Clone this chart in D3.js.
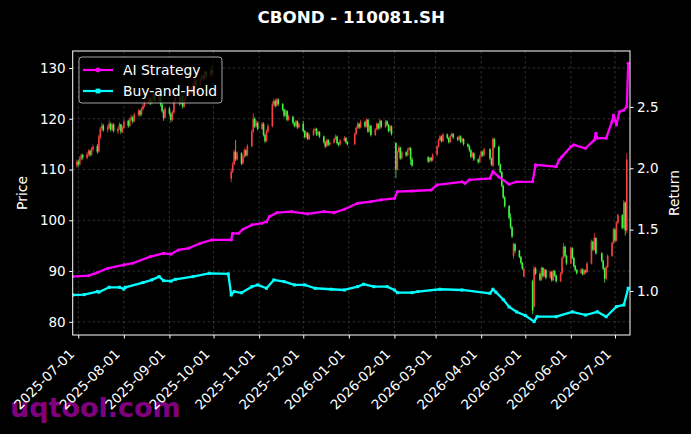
<!DOCTYPE html>
<html>
<head>
<meta charset="utf-8">
<script src="https://cdn.jsdelivr.net/npm/d3@7/dist/d3.min.js"></script>
<style>
  body { margin: 0; background: #000; }
  svg { display: block; font-family: "DejaVu Sans", sans-serif; }
</style>
</head>
<body>
<svg id="chart"></svg>
<script>
// Daily candles: [date, open, high, low, close]
var candles2025Q3 = [
  ["2025-06-30",110.8,112.0,110.4,111.5],["2025-07-01",111.6,111.9,110.5,111.0],["2025-07-02",111.0,112.6,110.8,112.2],
  ["2025-07-03",112.1,113.2,111.8,112.8],["2025-07-04",112.9,113.1,111.9,112.4],["2025-07-07",112.3,113.4,112.0,113.0],
  ["2025-07-08",113.1,114.0,112.6,113.6],["2025-07-09",113.7,113.9,112.5,112.9],["2025-07-10",112.9,114.4,112.7,114.0],
  ["2025-07-11",114.0,114.9,113.6,114.5],["2025-07-14",114.6,115.0,113.1,113.5],["2025-07-15",113.6,116.9,113.3,116.5],
  ["2025-07-16",116.4,118.4,116.0,118.0],["2025-07-17",118.1,119.2,117.6,118.6],["2025-07-18",118.7,119.0,117.4,117.8],
  ["2025-07-21",117.8,118.8,117.3,118.3],["2025-07-22",118.2,119.7,117.9,119.0],["2025-07-23",119.0,119.3,117.5,117.9],
  ["2025-07-24",117.9,119.2,117.6,118.8],["2025-07-25",118.9,119.1,117.3,117.6],["2025-07-28",117.5,118.4,117.0,118.0],
  ["2025-07-29",118.0,119.3,117.8,118.9],["2025-07-30",118.9,119.0,117.0,117.5],["2025-07-31",117.4,118.6,117.2,118.2],
  ["2025-08-01",118.2,119.9,118.0,119.5],["2025-08-04",119.6,119.8,118.2,118.6],["2025-08-05",118.6,120.2,118.4,119.8],
  ["2025-08-06",119.8,120.8,119.5,120.3],["2025-08-07",120.3,120.5,119.1,119.5],["2025-08-08",119.5,121.2,119.3,120.8],
  ["2025-08-11",120.8,121.9,120.5,121.5],["2025-08-12",121.6,121.8,120.4,120.8],["2025-08-13",120.8,122.3,120.6,121.9],
  ["2025-08-14",121.9,122.9,121.6,122.5],["2025-08-15",122.5,123.7,122.2,123.2],["2025-08-18",123.2,124.3,122.9,123.8],
  ["2025-08-19",123.9,124.1,122.7,123.1],["2025-08-20",123.1,124.5,122.9,124.0],["2025-08-21",124.0,125.2,123.7,124.6],
  ["2025-08-22",124.7,124.9,123.1,123.5],["2025-08-25",123.5,125.3,123.2,124.8],["2025-08-26",124.8,125.0,122.4,122.8],
  ["2025-08-27",122.8,123.1,121.2,121.5],["2025-08-28",121.5,121.8,119.6,120.2],["2025-08-29",120.2,122.4,120.0,122.0],
  ["2025-09-01",122.0,122.3,120.6,121.0],["2025-09-02",121.0,121.3,119.3,119.8],["2025-09-03",119.8,121.6,119.5,121.2],
  ["2025-09-04",121.2,123.9,121.0,123.5],["2025-09-05",123.5,124.6,123.1,124.2],["2025-09-08",124.2,124.4,122.6,123.0],
  ["2025-09-09",123.0,124.9,122.8,124.5],["2025-09-10",124.5,124.7,122.0,122.4],["2025-09-11",122.4,124.2,122.2,123.8],
  ["2025-09-12",123.8,125.4,123.5,125.0],["2025-09-15",125.0,126.4,124.7,126.0],["2025-09-16",126.0,126.3,125.0,125.4],
  ["2025-09-17",125.4,127.2,125.2,126.8],["2025-09-18",126.8,127.9,126.5,127.5],["2025-09-19",127.5,127.7,126.2,126.6],
  ["2025-09-22",126.6,128.2,126.4,127.8],["2025-09-23",127.8,128.9,127.5,128.5],["2025-09-24",128.5,128.7,127.5,127.9],
  ["2025-09-25",127.9,129.6,127.7,129.2],["2025-09-26",129.2,129.4,128.0,128.4],["2025-09-29",128.4,130.0,128.2,129.6],
  ["2025-09-30",129.6,130.6,128.6,129.0]
];
var candles2025Q4 = [
  ["2025-10-13",108.2,110.2,107.5,109.6],["2025-10-14",109.6,111.5,109.3,111.0],["2025-10-15",111.0,113.9,110.8,113.5],
  ["2025-10-16",113.5,115.8,111.6,112.0],["2025-10-17",112.0,113.6,111.8,113.2],["2025-10-20",113.2,113.4,110.9,111.2],
  ["2025-10-21",111.2,112.9,111.0,112.5],["2025-10-22",112.5,114.2,112.3,113.8],["2025-10-23",113.8,114.0,112.5,112.8],
  ["2025-10-24",112.8,115.0,112.6,114.6],["2025-10-27",114.6,117.9,114.4,117.5],["2025-10-28",117.5,121.1,117.2,120.0],
  ["2025-10-29",120.0,120.3,118.2,118.5],["2025-10-30",118.5,119.7,118.3,119.2],["2025-10-31",119.2,119.5,117.7,118.0],
  ["2025-11-03",118.0,119.4,117.8,119.0],["2025-11-04",119.0,119.3,116.5,116.8],["2025-11-05",116.8,117.1,115.2,115.6],
  ["2025-11-06",115.6,117.9,115.4,117.5],["2025-11-07",117.5,119.0,117.2,118.6],["2025-11-10",118.5,123.4,118.3,122.8],
  ["2025-11-11",122.8,124.0,122.4,123.5],["2025-11-12",123.5,123.8,122.2,122.6],["2025-11-13",122.6,124.1,122.4,123.8],
  ["2025-11-14",123.8,124.0,122.5,122.9],["2025-11-17",122.9,123.1,121.5,121.8],["2025-11-18",121.8,122.0,120.3,120.6],
  ["2025-11-19",120.6,121.9,120.4,121.5],["2025-11-20",121.5,121.7,119.5,119.8],["2025-11-21",119.8,120.8,119.6,120.4],
  ["2025-11-24",120.4,120.6,118.9,119.2],["2025-11-25",119.2,119.4,118.3,118.6],["2025-11-26",118.6,119.8,118.4,119.5],
  ["2025-11-27",119.5,119.7,118.0,118.3],["2025-11-28",118.3,119.3,118.1,119.0],["2025-12-01",119.0,119.6,117.3,117.6],
  ["2025-12-02",117.6,117.8,116.1,116.4],["2025-12-03",116.4,117.5,116.2,117.2],["2025-12-04",117.2,117.4,115.8,116.0],
  ["2025-12-05",116.0,117.1,115.8,116.8],["2025-12-08",116.8,118.1,116.6,117.8],["2025-12-09",117.8,118.3,117.5,118.0],
  ["2025-12-10",118.0,118.2,116.6,116.9],["2025-12-11",116.9,117.7,116.7,117.4],["2025-12-12",117.4,117.6,116.2,116.5],
  ["2025-12-15",116.5,116.7,115.1,115.4],["2025-12-16",115.4,115.6,114.2,114.6],["2025-12-17",114.6,116.1,114.4,115.8],
  ["2025-12-18",115.8,116.0,114.6,114.9],["2025-12-19",114.9,115.6,114.7,115.3],["2025-12-22",115.3,116.3,115.1,116.0],
  ["2025-12-23",116.0,116.9,115.8,116.5],["2025-12-24",116.5,116.7,114.9,115.2],["2025-12-25",115.2,115.4,114.5,114.9],
  ["2025-12-26",114.9,116.0,114.7,115.7],["2025-12-29",115.7,116.6,115.5,116.2],["2025-12-30",116.2,116.4,115.1,115.4],
  ["2025-12-31",115.4,115.6,114.7,115.0]
];
var candles2026Q1 = [
  ["2026-01-05",115.0,117.3,114.8,117.0],["2026-01-06",117.0,118.5,116.8,118.2],["2026-01-07",118.2,119.4,118.0,119.0],
  ["2026-01-08",119.0,119.2,118.0,118.3],["2026-01-09",118.3,119.8,118.1,119.4],["2026-01-12",119.4,119.6,118.2,118.5],
  ["2026-01-13",118.5,120.1,118.3,119.8],["2026-01-14",119.8,120.0,117.2,117.5],["2026-01-15",117.5,118.9,117.3,118.6],
  ["2026-01-16",118.6,118.8,116.5,116.8],["2026-01-19",116.8,118.2,116.6,117.9],["2026-01-20",117.9,119.3,117.7,119.0],
  ["2026-01-21",119.0,119.2,117.8,118.1],["2026-01-22",118.1,119.9,117.9,119.6],["2026-01-23",119.6,119.8,118.1,118.4],
  ["2026-01-26",118.4,119.8,118.2,119.5],["2026-01-27",119.5,119.7,118.5,118.8],["2026-01-28",118.8,119.0,117.3,117.6],
  ["2026-01-29",117.6,118.8,117.4,118.5],["2026-01-30",118.5,118.7,116.7,117.0],["2026-02-02",115.2,115.4,108.3,110.0],
  ["2026-02-03",110.0,113.8,109.8,113.5],["2026-02-04",113.5,114.8,113.3,114.3],["2026-02-05",114.3,114.5,111.9,112.2],
  ["2026-02-06",112.2,113.7,112.0,113.4],["2026-02-09",113.4,113.6,112.5,112.8],["2026-02-10",112.8,114.2,112.6,113.9],
  ["2026-02-11",113.9,114.5,113.7,114.2],["2026-02-12",114.2,114.4,110.9,112.0],["2026-02-13",112.0,112.4,110.5,110.8],
  ["2026-02-24",112.4,112.6,111.3,111.6],["2026-02-25",111.6,112.5,111.4,112.3],["2026-02-26",112.3,112.5,111.5,111.8],
  ["2026-02-27",111.8,113.2,111.6,112.9],["2026-03-02",112.9,114.8,112.7,114.5],["2026-03-03",114.5,116.1,114.3,115.8],
  ["2026-03-04",115.8,116.8,115.6,116.5],["2026-03-05",116.5,116.7,115.3,115.6],["2026-03-06",115.6,117.2,115.4,116.9],
  ["2026-03-09",116.9,117.1,115.9,116.2],["2026-03-10",116.2,116.4,115.1,115.4],["2026-03-11",115.4,116.9,115.2,116.6],
  ["2026-03-12",116.6,117.3,116.4,117.0],["2026-03-13",117.0,117.2,116.0,116.3],["2026-03-16",116.3,116.5,115.6,115.9],
  ["2026-03-17",115.9,116.8,115.7,116.5],["2026-03-18",116.5,116.7,115.2,115.5],["2026-03-19",115.5,116.3,115.3,116.0],
  ["2026-03-20",116.0,116.2,114.7,115.0],["2026-03-23",115.0,115.2,114.3,114.6],["2026-03-24",114.6,114.8,113.5,113.8],
  ["2026-03-25",113.8,114.0,112.2,112.5],["2026-03-26",112.5,113.5,112.3,113.2],["2026-03-27",113.2,113.4,111.7,112.0],
  ["2026-03-30",112.0,112.2,111.1,111.5],["2026-03-31",111.5,112.9,111.3,112.6]
];
var candles2026Q2 = [
  ["2026-04-01",112.6,113.8,112.4,113.5],["2026-04-02",113.5,113.7,112.5,112.8],["2026-04-03",112.8,114.3,112.6,114.0],
  ["2026-04-07",114.0,114.2,111.9,112.2],["2026-04-08",112.2,112.4,110.7,111.0],["2026-04-09",110.8,116.4,110.5,116.0],
  ["2026-04-10",116.0,116.2,114.2,114.5],["2026-04-13",114.5,114.7,110.7,111.0],["2026-04-14",111.0,111.2,109.2,109.5],
  ["2026-04-15",109.5,109.7,106.5,106.8],["2026-04-16",106.8,107.0,104.2,104.5],["2026-04-17",104.5,104.8,102.5,102.8],
  ["2026-04-20",102.8,103.0,100.2,100.5],["2026-04-21",100.5,101.4,98.3,98.6],["2026-04-22",98.6,98.9,96.5,96.8],
  ["2026-04-23",93.0,95.6,92.5,95.3],["2026-04-24",95.3,95.5,93.5,94.0],["2026-04-27",94.0,94.2,92.5,92.8],
  ["2026-04-28",92.8,93.0,91.3,91.6],["2026-04-29",91.6,91.8,90.2,90.5],["2026-04-30",88.9,90.8,88.8,90.4],
  ["2026-05-06",88.0,88.3,81.5,82.2],["2026-05-07",83.0,91.0,82.8,90.5],["2026-05-08",90.5,90.8,89.2,89.5],
  ["2026-05-11",89.5,89.7,88.0,88.3],["2026-05-12",88.3,90.9,88.1,90.6],["2026-05-13",90.6,90.8,88.7,89.0],
  ["2026-05-14",89.0,90.5,88.8,90.2],["2026-05-15",90.2,90.4,88.4,88.7],["2026-05-18",88.7,90.1,88.5,89.8],
  ["2026-05-19",89.8,90.0,87.9,88.2],["2026-05-20",88.2,90.3,88.0,90.0],["2026-05-21",90.0,90.2,88.8,89.1],
  ["2026-05-22",89.1,89.3,87.7,88.0],["2026-05-25",88.0,89.8,87.8,89.5],["2026-05-26",89.5,92.9,89.3,92.6],
  ["2026-05-27",92.6,95.5,92.4,94.8],["2026-05-28",94.8,95.0,92.7,93.0],["2026-05-29",93.0,93.2,91.2,91.5],
  ["2026-06-01",91.5,94.8,91.3,94.5],["2026-06-02",94.5,94.7,92.3,92.6],["2026-06-03",92.6,92.8,90.7,91.0],
  ["2026-06-04",91.0,91.2,89.9,90.2],["2026-06-05",90.2,90.4,89.3,89.6],["2026-06-08",89.6,90.6,89.4,90.3],
  ["2026-06-09",90.3,90.5,89.1,89.4],["2026-06-10",89.4,90.4,89.2,90.1],["2026-06-11",90.1,90.3,89.5,89.8],
  ["2026-06-12",89.8,91.8,89.6,91.5],["2026-06-15",91.5,96.2,91.3,95.8],["2026-06-16",95.8,96.0,93.9,94.2],
  ["2026-06-17",94.2,97.5,94.0,96.5],["2026-06-18",96.5,96.7,93.2,93.5],["2026-06-22",93.5,93.7,91.7,92.0],
  ["2026-06-23",92.0,92.2,90.2,90.5],["2026-06-24",90.5,90.7,87.7,88.5],["2026-06-25",88.5,91.1,88.3,90.8],
  ["2026-06-26",90.8,93.3,90.6,93.0],["2026-06-29",93.0,95.8,92.8,95.5],["2026-06-30",95.5,98.5,95.3,98.2],
  ["2026-07-01",98.2,98.4,95.7,96.0],["2026-07-02",96.0,99.8,95.8,99.5],["2026-07-03",99.5,101.3,99.3,101.0],
  ["2026-07-06",101.0,101.2,98.2,98.5],["2026-07-07",98.5,104.0,98.3,103.5],["2026-07-08",103.5,103.7,97.0,98.0],
  ["2026-07-09",98.0,113.2,97.5,112.0]
];

// Cumulative return curves: [date, value]
var aiStrategy = [
  ["2025-06-27",1.117],["2025-07-08",1.125],["2025-07-14",1.150],["2025-07-21",1.185],["2025-08-01",1.212],
  ["2025-08-07",1.226],["2025-08-19",1.280],["2025-08-28",1.307],["2025-09-02",1.300],["2025-09-07",1.334],
  ["2025-09-14",1.348],["2025-09-22",1.389],["2025-09-30",1.416],["2025-10-13",1.416],["2025-10-14",1.470],
  ["2025-10-18",1.470],["2025-10-21",1.503],["2025-10-27",1.538],["2025-11-03",1.552],["2025-11-06",1.565],
  ["2025-11-08",1.606],["2025-11-13",1.638],["2025-11-23",1.646],["2025-12-04",1.628],["2025-12-15",1.646],
  ["2025-12-22",1.638],["2025-12-29",1.666],["2026-01-07",1.715],["2026-01-16",1.728],["2026-01-23",1.742],
  ["2026-02-01",1.755],["2026-02-03",1.810],["2026-02-13",1.815],["2026-02-26",1.823],["2026-03-02",1.864],
  ["2026-03-19",1.890],["2026-03-21",1.877],["2026-03-24",1.905],["2026-04-07",1.918],["2026-04-09",1.972],
  ["2026-04-13",1.930],["2026-04-20",1.870],["2026-04-25",1.890],["2026-05-06",1.891],["2026-05-08",2.027],
  ["2026-05-22",2.013],["2026-05-24",2.068],["2026-05-26",2.095],["2026-06-01",2.176],["2026-06-03",2.190],
  ["2026-06-11",2.163],["2026-06-17",2.231],["2026-06-18",2.285],["2026-06-19",2.245],["2026-06-25",2.245],
  ["2026-06-29",2.380],["2026-06-30",2.434],["2026-07-02",2.353],["2026-07-04",2.461],["2026-07-07",2.475],
  ["2026-07-09",2.502],["2026-07-10",2.856]
];
var buyAndHold = [
  ["2025-06-27",0.967],["2025-07-05",0.970],["2025-07-14",0.995],["2025-07-15",0.990],["2025-07-22",1.030],
  ["2025-07-29",1.030],["2025-08-01",1.015],["2025-08-02",1.030],["2025-08-14",1.068],["2025-08-20",1.090],
  ["2025-08-25",1.117],["2025-08-28",1.084],["2025-09-02",1.080],["2025-09-05",1.095],["2025-09-17",1.117],
  ["2025-09-28",1.144],["2025-10-11",1.139],["2025-10-13",0.967],["2025-10-15",0.995],["2025-10-20",0.985],
  ["2025-10-27",1.035],["2025-10-31",1.049],["2025-11-06",1.022],["2025-11-11",1.090],["2025-11-18",1.076],
  ["2025-11-25",1.049],["2025-12-02",1.049],["2025-12-09",1.022],["2025-12-20",1.014],["2025-12-29",1.008],
  ["2026-01-07",1.035],["2026-01-11",1.055],["2026-01-18",1.035],["2026-01-27",1.035],["2026-02-01",1.008],
  ["2026-02-03",0.986],["2026-02-13",0.986],["2026-02-17",0.995],["2026-03-04",1.014],["2026-03-19",1.008],
  ["2026-04-07",0.981],["2026-04-09",1.014],["2026-04-11",0.990],["2026-04-16",0.930],["2026-04-20",0.870],
  ["2026-04-25",0.830],["2026-05-01",0.800],["2026-05-07",0.750],["2026-05-09",0.790],["2026-05-22",0.790],
  ["2026-06-02",0.830],["2026-06-11",0.804],["2026-06-19",0.830],["2026-06-25",0.790],["2026-07-02",0.872],
  ["2026-07-07",0.886],["2026-07-10",1.022]
];

var monthTicks = ["2025-07-01","2025-08-01","2025-09-01","2025-10-01","2025-11-01","2025-12-01","2026-01-01",
                  "2026-02-01","2026-03-01","2026-04-01","2026-05-01","2026-06-01","2026-07-01"];
var priceTicks = [80, 90, 100, 110, 120, 130];
var returnTicks = [1.0, 1.5, 2.0, 2.5];

var W = 691, H = 434;
var plotL = 72.7, plotR = 630, plotT = 51, plotB = 335;
var parse = d3.timeParse("%Y-%m-%d");

var svg = d3.select("#chart").attr("width", W).attr("height", H);
svg.append("rect").attr("width", W).attr("height", H).attr("fill", "#000");

var x = d3.scaleTime()
  .domain([new Date(2025, 5, 27, 5), new Date(2026, 6, 11, 5)])
  .range([plotL, plotR]);
var yPrice = d3.scaleLinear().domain([77.4, 133.35]).range([plotB, plotT]);
var yRet = d3.scaleLinear().domain([0.641, 2.956]).range([plotB, plotT]);

// watermark sits under everything else
svg.append("text")
  .attr("x", 10).attr("y", 417)
  .attr("font-size", 27).attr("font-weight", "bold")
  .attr("fill", "#800080")
  .text("uqtool.com");

svg.append("clipPath").attr("id", "plot")
  .append("rect").attr("x", plotL).attr("y", plotT).attr("width", plotR - plotL).attr("height", plotB - plotT);

// Grid lines
var grid = svg.append("g").attr("stroke", "#666").attr("stroke-width", 0.6)
  .attr("stroke-dasharray", "2.5,2.5").attr("opacity", 0.8);
grid.selectAll(".gx").data(monthTicks).enter().append("line")
  .attr("x1", function(d){ return x(parse(d)); }).attr("x2", function(d){ return x(parse(d)); })
  .attr("y1", plotT).attr("y2", plotB);
grid.selectAll(".gy").data(priceTicks).enter().append("line")
  .attr("x1", plotL).attr("x2", plotR)
  .attr("y1", function(d){ return yPrice(d); }).attr("y2", function(d){ return yPrice(d); });

// Candles (red = up, green = down)
var candles = [].concat(candles2025Q3, candles2025Q4, candles2026Q1, candles2026Q2).map(function(r){
  return { date: parse(r[0]), o: r[1], h: r[2], l: r[3], c: r[4] };
});
function candleColor(d){ return d.c >= d.o ? "#f44040" : "#44f444"; }

var cg = svg.append("g").attr("clip-path", "url(#plot)");
cg.selectAll(".wick").data(candles).enter().append("line")
  .attr("x1", function(d){ return x(d.date); }).attr("x2", function(d){ return x(d.date); })
  .attr("y1", function(d){ return yPrice(d.h); }).attr("y2", function(d){ return yPrice(d.l); })
  .attr("stroke", candleColor).attr("stroke-width", 0.8);
cg.selectAll(".body").data(candles).enter().append("rect")
  .attr("x", function(d){ return x(d.date) - 0.8; })
  .attr("width", 1.6)
  .attr("y", function(d){ return yPrice(Math.max(d.o, d.c)); })
  .attr("height", function(d){ return Math.max(0.8, Math.abs(yPrice(d.o) - yPrice(d.c))); })
  .attr("fill", candleColor);

// Return lines
var retLine = d3.line()
  .x(function(d){ return x(parse(d[0])); })
  .y(function(d){ return yRet(d[1]); });

var lg = svg.append("g").attr("clip-path", "url(#plot)");
lg.append("path").datum(buyAndHold).attr("d", retLine)
  .attr("fill", "none").attr("stroke", "#00ffff").attr("stroke-width", 2.3).attr("stroke-linejoin", "round");
lg.selectAll(".bh").data(buyAndHold).enter().append("rect")
  .attr("x", function(d){ return x(parse(d[0])) - 1.5; })
  .attr("y", function(d){ return yRet(d[1]) - 1.5; })
  .attr("width", 3).attr("height", 3).attr("fill", "#00ffff");
lg.append("path").datum(aiStrategy).attr("d", retLine)
  .attr("fill", "none").attr("stroke", "#ff00ff").attr("stroke-width", 2.3).attr("stroke-linejoin", "round");
lg.selectAll(".ai").data(aiStrategy).enter().append("circle")
  .attr("cx", function(d){ return x(parse(d[0])); })
  .attr("cy", function(d){ return yRet(d[1]); })
  .attr("r", 1.6).attr("fill", "#ff00ff");

// Frame
svg.append("rect").attr("x", plotL).attr("y", plotT).attr("width", plotR - plotL).attr("height", plotB - plotT)
  .attr("fill", "none").attr("stroke", "#fff").attr("stroke-width", 1);

// Axes
var xAxis = svg.append("g").attr("transform", "translate(0," + plotB + ")")
  .call(d3.axisBottom(x).tickValues(monthTicks.map(parse)).tickSize(3.5).tickFormat(""));
var yAxisL = svg.append("g").attr("transform", "translate(" + plotL + ",0)")
  .call(d3.axisLeft(yPrice).tickValues(priceTicks).tickSize(3.5).tickPadding(3.5));
var yAxisR = svg.append("g").attr("transform", "translate(" + plotR + ",0)")
  .call(d3.axisRight(yRet).tickValues(returnTicks).tickSize(3.5).tickPadding(3.5).tickFormat(d3.format(".1f")));

[xAxis, yAxisL, yAxisR].forEach(function(a){
  a.select(".domain").remove();
  a.selectAll(".tick line").attr("stroke", "#fff");
  a.selectAll(".tick text").attr("fill", "#fff").attr("font-size", 13.5).attr("font-family", "DejaVu Sans");
});

// rotated date labels
svg.selectAll(".xlab").data(monthTicks).enter().append("text")
  .attr("transform", function(d){ return "translate(" + (x(parse(d)) - 3) + ",355) rotate(-45)"; })
  .attr("text-anchor", "end")
  .attr("fill", "#fff").attr("font-size", 13.5)
  .text(function(d){ return d; });

svg.append("text").attr("transform", "translate(27," + ((plotT + plotB) / 2) + ") rotate(-90)")
  .attr("text-anchor", "middle").attr("fill", "#fff").attr("font-size", 13.9).text("Price");
svg.append("text").attr("transform", "translate(679," + ((plotT + plotB) / 2) + ") rotate(-90)")
  .attr("text-anchor", "middle").attr("fill", "#fff").attr("font-size", 13.9).text("Return");

// Title
svg.append("text").attr("x", (plotL + plotR) / 2).attr("y", 23)
  .attr("text-anchor", "middle").attr("fill", "#fff")
  .attr("font-size", 16.7).attr("font-weight", "bold")
  .text("CBOND - 110081.SH");

// Legend
var legend = svg.append("g");
legend.append("rect").attr("x", 79).attr("y", 57).attr("width", 143).attr("height", 46).attr("rx", 3)
  .attr("fill", "#000").attr("fill-opacity", 0.8).attr("stroke", "#ccc").attr("stroke-opacity", 0.8);
var items = [
  { name: "AI Strategy", color: "#ff00ff", y: 70, shape: "circle" },
  { name: "Buy-and-Hold", color: "#00ffff", y: 91, shape: "square" }
];
items.forEach(function(it){
  legend.append("line").attr("x1", 83).attr("x2", 113).attr("y1", it.y).attr("y2", it.y)
    .attr("stroke", it.color).attr("stroke-width", 2.2);
  if (it.shape === "circle") {
    legend.append("circle").attr("cx", 98).attr("cy", it.y).attr("r", 2.4).attr("fill", it.color);
  } else {
    legend.append("rect").attr("x", 95.6).attr("y", it.y - 2.4).attr("width", 4.8).attr("height", 4.8).attr("fill", it.color);
  }
  legend.append("text").attr("x", 123).attr("y", it.y + 5).attr("fill", "#fff")
    .attr("font-size", 13.9).text(it.name);
});
</script>
</body>
</html>
